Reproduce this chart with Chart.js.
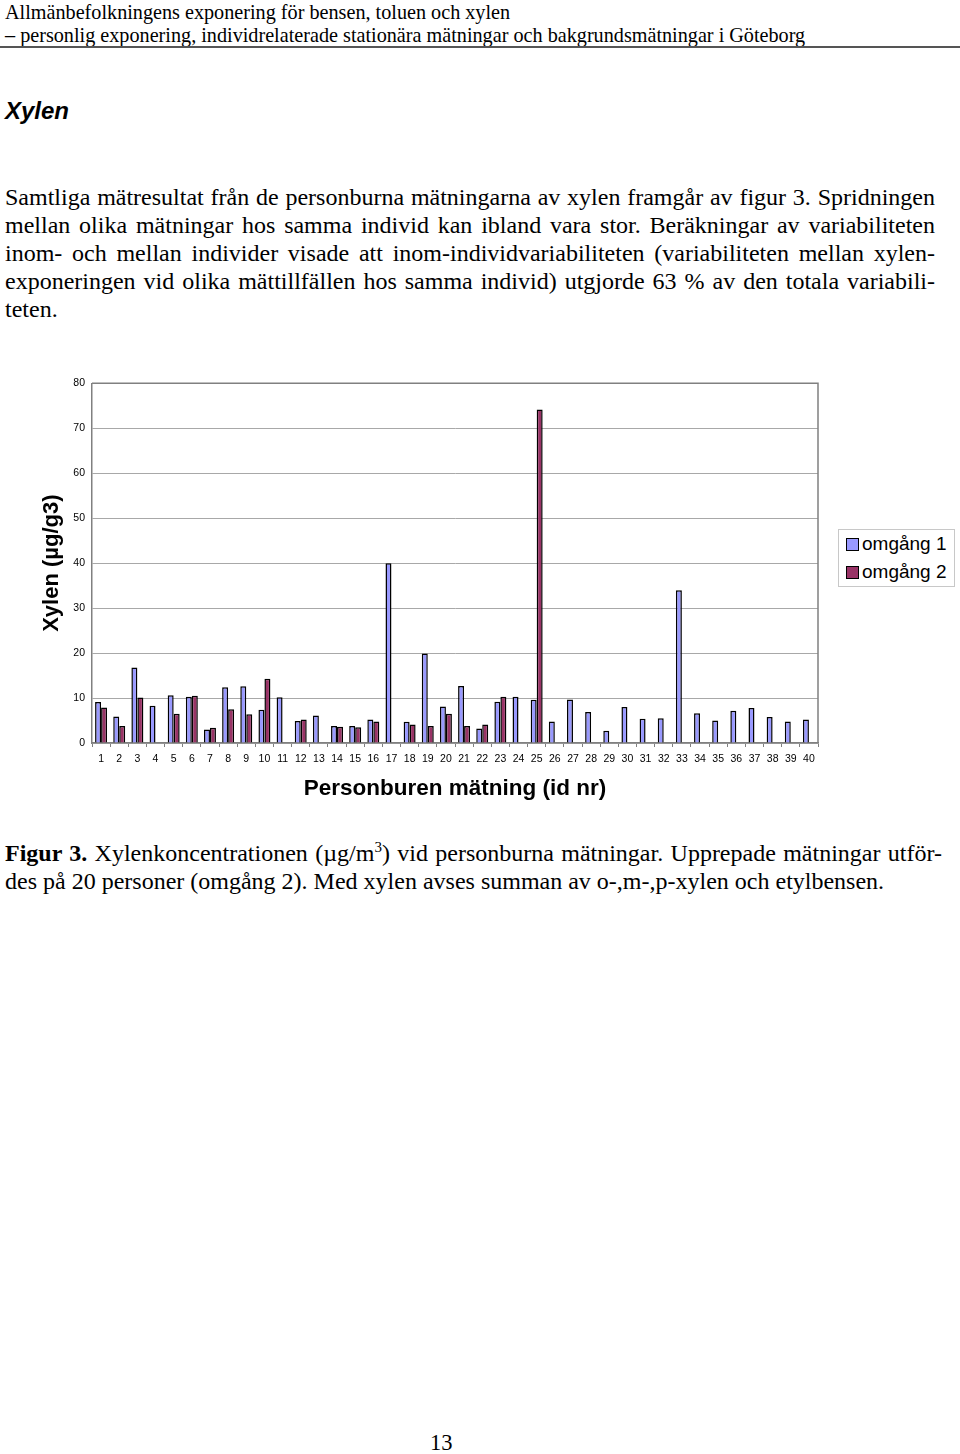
<!DOCTYPE html>
<html>
<head>
<meta charset="utf-8">
<script src="https://cdn.jsdelivr.net/npm/chart.js@4.4.1/dist/chart.umd.min.js"></script>
<style>
  body { margin: 0; width: 960px; height: 1454px; background: #fff; position: relative; font-family: "Liberation Serif", "Times New Roman", serif; color: #000; }
  .abs { position: absolute; }
  .hdr { left: 5px; font-size: 20.2px; line-height: 24px; white-space: nowrap; }
  .rule { left: 0; top: 46px; width: 960px; height: 0; border-top: 2px solid #555; }
  .h2 { left: 5px; top: 97px; font-family: "Liberation Sans", Arial, sans-serif; font-weight: bold; font-style: italic; font-size: 24px; }
  .para { left: 5px; width: 930px; font-size: 24px; line-height: 28px; }
  .para div { text-align: justify; text-align-last: justify; white-space: nowrap; }
  .para div.last { text-align-last: left; }
  .legend { left: 838px; top: 529px; width: 117px; height: 58px; border: 1px solid #c8c8c8; box-sizing: border-box; font-family: "Liberation Sans", Arial, sans-serif; font-size: 19px; }
  .legend .item { position: absolute; left: 7px; height: 22px; line-height: 22px; white-space: nowrap; }
  .legend .sw { display: inline-block; width: 11px; height: 11px; border: 1.5px solid #000; vertical-align: -1px; margin-right: 3px; }
  .caption { left: 5px; width: 937px; font-size: 24px; line-height: 28px; }
  .caption div { text-align: justify; text-align-last: justify; white-space: nowrap; }
  .caption div.last { text-align-last: left; }
  sup { font-size: 15px; line-height: 0; vertical-align: 9px; }
</style>
</head>
<body>
<div class="abs hdr" style="top:0px">Allmänbefolkningens exponering för bensen, toluen och xylen</div>
<div class="abs hdr" style="top:23px">– personlig exponering, individrelaterade stationära mätningar och bakgrundsmätningar i Göteborg</div>
<div class="abs rule"></div>
<div class="abs h2">Xylen</div>

<div class="abs para" style="top:183px">
  <div>Samtliga mätresultat från de personburna mätningarna av xylen framgår av figur 3. Spridningen</div>
  <div>mellan olika mätningar hos samma individ kan ibland vara stor. Beräkningar av variabiliteten</div>
  <div>inom- och mellan individer visade att inom-individvariabiliteten (variabiliteten mellan xylen-</div>
  <div>exponeringen vid olika mättillfällen hos samma individ) utgjorde 63 % av den totala variabili-</div>
  <div class="last">teten.</div>
</div>

<div class="abs" style="left:30px; top:370px; width:800px; height:440px;">
  <canvas id="xylenChart" width="800" height="440"></canvas>
</div>

<div class="abs legend">
  <div class="item" style="top:3px"><span class="sw" style="background:#9999ff"></span>omgång 1</div>
  <div class="item" style="top:31px"><span class="sw" style="background:#993366"></span>omgång 2</div>
</div>

<div class="abs caption" style="top:839px">
  <div><b>Figur 3.</b> Xylenkoncentrationen (µg/m<sup>3</sup>) vid personburna mätningar. Upprepade mätningar utför-</div>
  <div class="last">des på 20 personer (omgång 2). Med xylen avses summan av o-,m-,p-xylen och etylbensen.</div>
</div>

<div class="abs" style="left:430px; top:1430px; font-size:22.5px;">13</div>

<script>
// id numbers 1..40
const personIds = ['1','2','3','4','5','6','7','8','9','10','11','12','13','14','15','16','17','18','19','20',
                   '21','22','23','24','25','26','27','28','29','30','31','32','33','34','35','36','37','38','39','40'];

// omgång 1 (all persons)
const round1 = [9.1, 5.9, 16.8, 8.3, 10.6, 10.3, 3.0, 12.4, 12.6, 7.4,
                10.2, 4.9, 6.1, 3.8, 3.8, 5.2, 40.0, 4.7, 19.9, 8.1,
                12.7, 3.2, 9.2, 10.3, 9.6, 4.8, 9.7, 6.9, 2.7, 8.0,
                5.4, 5.5, 34.0, 6.6, 5.0, 7.2, 7.8, 5.8, 4.8, 5.2];

// omgång 2 (repeated on 20 persons)
const round2 = [7.9, 3.8, 10.1, null, 6.5, 10.5, 3.4, 7.5, 6.4, 14.3,
                null, 5.2, null, 3.6, 3.5, 4.8, null, 4.1, 3.8, 6.5,
                3.8, 4.1, 10.3, null, 74.2, null, null, null, null, null,
                null, null, null, null, null, null, null, null, null, null];

const yTicks = [0, 10, 20, 30, 40, 50, 60, 70, 80];

const plotBorder = {
    id: 'plotBorder',
    afterDraw(chart) {
        const { ctx, chartArea: a } = chart;
        ctx.save();
        ctx.strokeStyle = '#808080';
        ctx.lineWidth = 1.5;
        ctx.beginPath();
        ctx.moveTo(a.left, a.top);
        ctx.lineTo(a.right, a.top);
        ctx.lineTo(a.right, a.bottom);
        ctx.stroke();
        ctx.restore();
    }
};

const ctx = document.getElementById('xylenChart').getContext('2d');
new Chart(ctx, {
    type: 'bar',
    data: {
        labels: personIds,
        datasets: [
            {
                label: 'omgång 1',
                data: round1,
                backgroundColor: '#9999ff',
                borderColor: '#000000',
                borderWidth: 1.5
            },
            {
                label: 'omgång 2',
                data: round2,
                backgroundColor: '#993366',
                borderColor: '#000000',
                borderWidth: 1.5
            }
        ]
    },
    options: {
        responsive: false,
        animation: false,
        devicePixelRatio: 1,
        layout: { padding: { left: 0, right: 12, top: 11, bottom: 0 } },
        datasets: { bar: { categoryPercentage: 0.66, barPercentage: 1.0 } },
        plugins: {
            legend: { display: false },
            tooltip: { enabled: false }
        },
        scales: {
            x: {
                grid: { drawOnChartArea: false, drawTicks: true, tickLength: 4, tickColor: '#808080' },
                border: { color: '#808080', width: 1.5 },
                ticks: {
                    color: '#000',
                    font: { family: 'Liberation Sans, Arial, sans-serif', size: 10.5 },
                    padding: 6,
                    maxRotation: 0,
                    autoSkip: false
                },
                title: {
                    display: true,
                    text: 'Personburen mätning (id nr)',
                    color: '#000',
                    font: { family: 'Liberation Sans, Arial, sans-serif', size: 22.5, weight: 'bold' },
                    padding: { top: 0, bottom: 8 }
                },
                afterFit(scale) { scale.height = 67; }
            },
            y: {
                min: 0,
                max: 80,
                afterBuildTicks(scale) { scale.ticks = yTicks.map(v => ({ value: v })); },
                grid: { color: '#a8a8a8', lineWidth: 1, drawTicks: false },
                border: { color: '#808080', width: 1.5 },
                ticks: {
                    color: '#000',
                    font: { family: 'Liberation Sans, Arial, sans-serif', size: 10.5 },
                    padding: 7
                },
                title: {
                    display: true,
                    text: 'Xylen (µg/g3)',
                    color: '#000',
                    font: { family: 'Liberation Sans, Arial, sans-serif', size: 22, weight: 'bold' },
                    padding: { top: 9, bottom: 0 }
                },
                afterFit(scale) { scale.width = 62; }
            }
        }
    },
    plugins: [plotBorder]
});
</script>
</body>
</html>
